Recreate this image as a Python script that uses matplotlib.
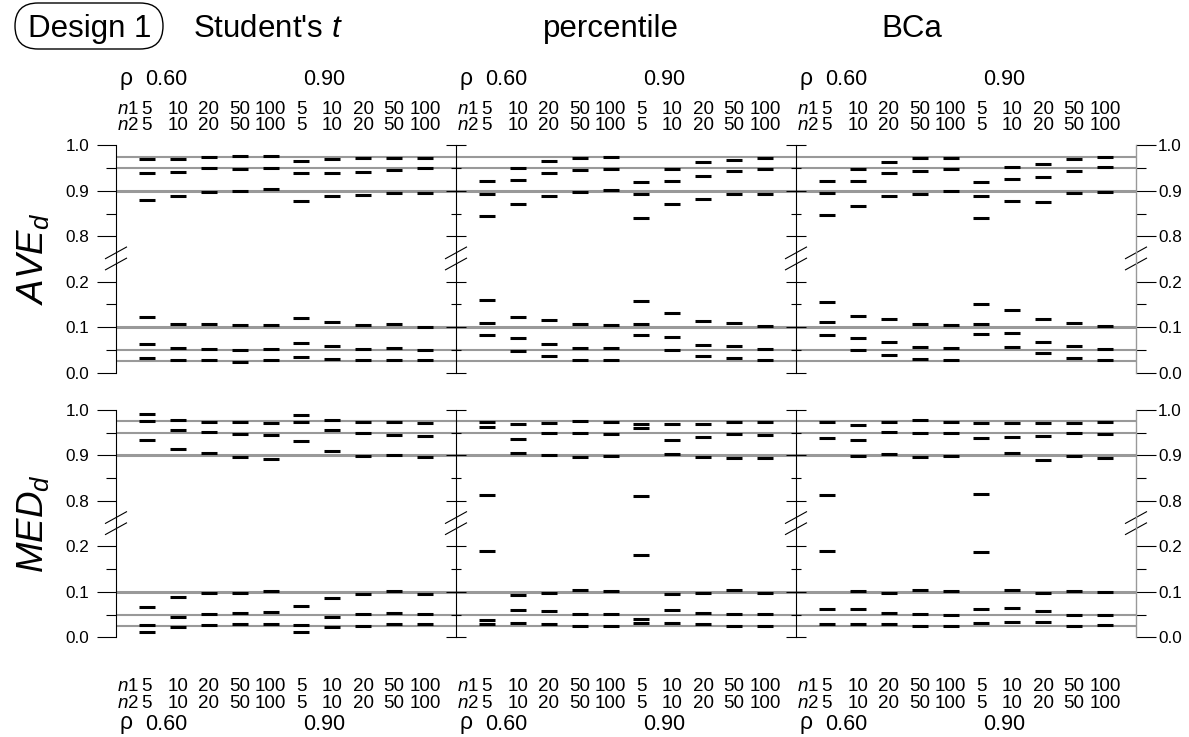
import numpy as np
import matplotlib
matplotlib.use("Agg")
import matplotlib.pyplot as plt
from matplotlib.patches import FancyBboxPatch
from matplotlib.ticker import FixedLocator, FixedFormatter, NullFormatter

plt.rcParams['font.family'] = ['Liberation Sans', 'DejaVu Sans']
plt.rcParams['mathtext.fontset'] = 'custom'
plt.rcParams['mathtext.it'] = 'Liberation Sans:italic'
plt.rcParams['mathtext.rm'] = 'Liberation Sans'
plt.rcParams['mathtext.bf'] = 'Liberation Sans:bold'

# ---------------- data ----------------
design_label = "Design 1"
methods = ["Student's $t$", "percentile", "BCa"]
statistics = ["$AVE_d$", "$MED_d$"]
rho_labels = ["0.60", "0.90"]
n1_labels = ["5", "10", "20", "50", "100", "5", "10", "20", "50", "100"]
n2_labels = ["5", "10", "20", "50", "100", "5", "10", "20", "50", "100"]
reference_levels = [0.975, 0.95, 0.9, 0.1, 0.05, 0.025]
ytick_values = [0.0, 0.1, 0.2, 0.8, 0.9, 1.0]
ytick_labels = ["0.0", "0.1", "0.2", "0.8", "0.9", "1.0"]
yminor_values = [0.05, 0.15, 0.85, 0.95]

# each row: one condition (rho 0.60 n=5..100, rho 0.90 n=5..100); six estimated levels
ave_student = [
    [0.970, 0.940, 0.879, 0.123, 0.064, 0.033],
    [0.970, 0.942, 0.888, 0.108, 0.055, 0.029],
    [0.974, 0.949, 0.897, 0.108, 0.052, 0.028],
    [0.976, 0.948, 0.899, 0.104, 0.051, 0.024],
    [0.977, 0.951, 0.904, 0.104, 0.053, 0.027],
    [0.965, 0.938, 0.878, 0.120, 0.066, 0.035],
    [0.970, 0.939, 0.889, 0.112, 0.059, 0.031],
    [0.971, 0.942, 0.891, 0.105, 0.052, 0.027],
    [0.972, 0.946, 0.896, 0.107, 0.054, 0.027],
    [0.973, 0.949, 0.895, 0.101, 0.050, 0.027],
]
ave_percentile = [
    [0.922, 0.894, 0.844, 0.160, 0.109, 0.082],
    [0.949, 0.924, 0.871, 0.123, 0.077, 0.048],
    [0.966, 0.940, 0.889, 0.115, 0.064, 0.037],
    [0.971, 0.946, 0.897, 0.107, 0.054, 0.029],
    [0.975, 0.948, 0.902, 0.104, 0.054, 0.029],
    [0.919, 0.894, 0.841, 0.157, 0.108, 0.082],
    [0.947, 0.921, 0.872, 0.131, 0.079, 0.051],
    [0.963, 0.933, 0.882, 0.114, 0.061, 0.037],
    [0.968, 0.944, 0.894, 0.109, 0.059, 0.032],
    [0.972, 0.948, 0.894, 0.103, 0.052, 0.029],
]
ave_bca = [
    [0.922, 0.895, 0.847, 0.156, 0.112, 0.082],
    [0.947, 0.921, 0.867, 0.125, 0.076, 0.049],
    [0.964, 0.938, 0.888, 0.118, 0.067, 0.038],
    [0.971, 0.944, 0.894, 0.108, 0.057, 0.030],
    [0.971, 0.947, 0.900, 0.104, 0.054, 0.029],
    [0.920, 0.889, 0.841, 0.152, 0.108, 0.084],
    [0.952, 0.925, 0.877, 0.137, 0.087, 0.057],
    [0.959, 0.931, 0.875, 0.119, 0.068, 0.044],
    [0.969, 0.943, 0.896, 0.110, 0.059, 0.032],
    [0.974, 0.952, 0.897, 0.103, 0.053, 0.029],
]
med_student = [
    [0.991, 0.975, 0.933, 0.067, 0.028, 0.012],
    [0.979, 0.956, 0.914, 0.089, 0.045, 0.022],
    [0.973, 0.952, 0.905, 0.097, 0.051, 0.028],
    [0.973, 0.948, 0.897, 0.097, 0.053, 0.029],
    [0.971, 0.944, 0.893, 0.103, 0.055, 0.029],
    [0.990, 0.974, 0.931, 0.068, 0.028, 0.012],
    [0.978, 0.957, 0.910, 0.087, 0.044, 0.022],
    [0.973, 0.950, 0.899, 0.096, 0.052, 0.026],
    [0.973, 0.944, 0.900, 0.101, 0.053, 0.030],
    [0.971, 0.943, 0.896, 0.096, 0.051, 0.030],
]
med_percentile = [
    [0.973, 0.962, 0.813, 0.189, 0.039, 0.030],
    [0.970, 0.937, 0.905, 0.094, 0.061, 0.032],
    [0.971, 0.949, 0.902, 0.098, 0.057, 0.030],
    [0.976, 0.950, 0.896, 0.104, 0.051, 0.024],
    [0.973, 0.948, 0.899, 0.103, 0.051, 0.026],
    [0.969, 0.960, 0.811, 0.182, 0.040, 0.032],
    [0.970, 0.935, 0.903, 0.096, 0.061, 0.031],
    [0.969, 0.941, 0.897, 0.097, 0.053, 0.030],
    [0.973, 0.947, 0.895, 0.105, 0.052, 0.026],
    [0.974, 0.946, 0.894, 0.098, 0.051, 0.026],
]
med_bca = [
    [0.973, 0.939, 0.813, 0.189, 0.062, 0.030],
    [0.967, 0.935, 0.899, 0.101, 0.062, 0.030],
    [0.973, 0.951, 0.903, 0.098, 0.054, 0.030],
    [0.977, 0.949, 0.896, 0.104, 0.051, 0.026],
    [0.973, 0.949, 0.899, 0.103, 0.050, 0.026],
    [0.971, 0.938, 0.816, 0.188, 0.062, 0.031],
    [0.971, 0.941, 0.905, 0.105, 0.065, 0.033],
    [0.971, 0.943, 0.889, 0.098, 0.057, 0.033],
    [0.971, 0.950, 0.899, 0.103, 0.049, 0.026],
    [0.973, 0.947, 0.895, 0.099, 0.050, 0.028],
]
panel_data = [[ave_student, ave_percentile, ave_bca],
              [med_student, med_percentile, med_bca]]


# ---------------- broken y scale ----------------
def fwd(v):
    v = np.asarray(v, dtype=float)
    return np.where(v <= 0.2, v * 10,
                    np.where(v >= 0.8, v * 10 - 5, 2 + (v - 0.2) / 0.6))


def inv(p):
    p = np.asarray(p, dtype=float)
    return np.where(p <= 2, p / 10,
                    np.where(p >= 3, (p + 5) / 10, 0.2 + (p - 2) * 0.6))


# ---------------- layout ----------------
W, H = 1189, 737
fig = plt.figure(figsize=(W / 100, H / 100), dpi=100)
panel_left_px = [116, 456, 796]
panel_w_px = 340
row_top_px = [145.3, 410.0]
row_h_px = 227.4
gray = '#999999'
tick_fs = 12.3
n_fs = 13.5
rho_fs = 15.5

overlay = fig.add_axes([0, 0, 1, 1], zorder=-5)
overlay.set_xlim(0, W)
overlay.set_ylim(0, H)
overlay.axis('off')

overlay.add_patch(FancyBboxPatch((15, H - 49), 148, 46,
                                 boxstyle="round,pad=0,rounding_size=23",
                                 fc='none', ec='black', lw=1.0))
overlay.text(28, H - 37, design_label, fontsize=22.5, ha='left', va='baseline')
title_x = [268, 611, 912]
for tx, m in zip(title_x, methods):
    overlay.text(tx, H - 37, m, fontsize=22.5, ha='center', va='baseline')


def style_scale(a):
    a.set_yscale('function', functions=(fwd, inv))
    a.set_ylim(0, 1)
    a.yaxis.set_major_locator(FixedLocator(ytick_values))
    a.yaxis.set_minor_locator(FixedLocator(yminor_values))
    a.yaxis.set_minor_formatter(NullFormatter())


def break_marks(a, x0):
    dx = 10.5 / panel_w_px
    dy = 5.8 / row_h_px
    for yc in (0.527, 0.478):
        a.plot([x0 - dx, x0 + dx], [yc - dy, yc + dy], transform=a.transAxes,
               color='black', lw=0.8, clip_on=False, zorder=5)


x_pos = np.arange(1, len(n1_labels) + 1)

for r in range(2):
    for c in range(3):
        top = row_top_px[r]
        ax = fig.add_axes([panel_left_px[c] / W, (H - top - row_h_px) / H,
                           panel_w_px / W, row_h_px / H])
        ax.patch.set_visible(False)
        style_scale(ax)
        ax.set_xlim(0, len(n1_labels) + 1)
        ax.set_xticks([])
        for s in ('top', 'bottom', 'right'):
            ax.spines[s].set_visible(False)
        ax.spines['left'].set_linewidth(0.8)

        if c == 0:
            ax.yaxis.set_major_formatter(FixedFormatter(ytick_labels))
            ax.tick_params(axis='y', which='major', direction='out', length=13.9,
                           width=0.8, labelsize=tick_fs, pad=5.5)
            ax.tick_params(axis='y', which='minor', direction='out', length=7.2, width=0.8)
            ax.set_ylabel(statistics[r], fontsize=26.5, labelpad=10)
        else:
            ax.yaxis.set_major_formatter(NullFormatter())
            ax.tick_params(axis='y', which='major', direction='inout', length=14.9,
                           width=0.8, labelleft=False)
            ax.tick_params(axis='y', which='minor', direction='inout', length=7.9, width=0.8)

        for lvl in reference_levels:
            ax.axhline(lvl, color=gray, lw=2.2 if lvl in (0.9, 0.1) else 1.5, zorder=1)

        vals = np.array(panel_data[r][c])
        for j in range(vals.shape[1]):
            ax.plot(x_pos, vals[:, j], ls='none', marker='_', ms=11, mew=2.2,
                    color='black', zorder=3)

        break_marks(ax, 0.0)

        if c == 2:
            axr = ax.twinx()
            style_scale(axr)
            axr.yaxis.set_major_formatter(FixedFormatter(ytick_labels))
            for s in ('top', 'bottom', 'left'):
                axr.spines[s].set_visible(False)
            axr.spines['right'].set_color(gray)
            axr.spines['right'].set_linewidth(1.0)
            axr.tick_params(axis='y', which='major', direction='out', length=14.4,
                            width=0.8, labelsize=tick_fs, pad=1.5, colors='black')
            axr.tick_params(axis='y', which='minor', direction='out', length=7.2, width=0.8)
            break_marks(ax, 1.0)

        # column labels
        tr = ax.get_xaxis_transform()
        base = top + row_h_px
        if r == 0:
            y_rho, y_n1, y_n2 = [(base - yb) / row_h_px for yb in (85.5, 114.0, 130.5)]
        else:
            y_n1, y_n2, y_rho = [(base - yb) / row_h_px for yb in (691.0, 708.5, 729.5)]
        ax.text(0.32, y_rho, 'ρ', transform=tr, fontsize=rho_fs + 1, ha='center',
                va='baseline', clip_on=False)
        ax.text(0.93, y_rho, rho_labels[0], transform=tr, fontsize=rho_fs, ha='left',
                va='baseline', clip_on=False)
        ax.text(6.05, y_rho, rho_labels[1], transform=tr, fontsize=rho_fs, ha='left',
                va='baseline', clip_on=False)
        ax.text(0.02, y_n1, '$n$1', transform=tr, fontsize=n_fs, ha='left',
                va='baseline', clip_on=False)
        ax.text(0.02, y_n2, '$n$2', transform=tr, fontsize=n_fs, ha='left',
                va='baseline', clip_on=False)
        for xi, a_lab, b_lab in zip(x_pos, n1_labels, n2_labels):
            ax.text(xi, y_n1, a_lab, transform=tr, fontsize=n_fs, ha='center',
                    va='baseline', clip_on=False)
            ax.text(xi, y_n2, b_lab, transform=tr, fontsize=n_fs, ha='center',
                    va='baseline', clip_on=False)

fig.savefig('out.png', dpi=100)
